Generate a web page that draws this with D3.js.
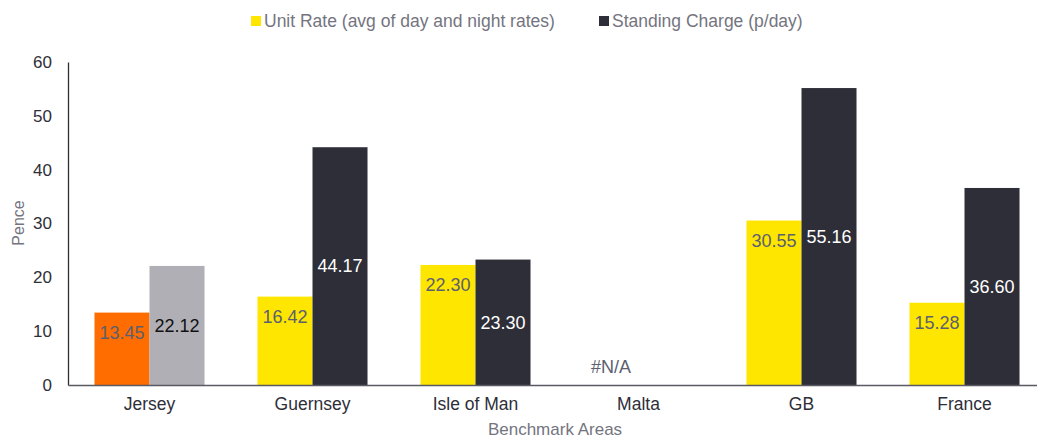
<!DOCTYPE html>
<html>
<head>
<meta charset="utf-8">
<script src="https://cdn.jsdelivr.net/npm/d3@7"></script>
<style>
  body { margin: 0; background: #fff; }
  svg { display: block; font-family: "Liberation Sans", Arial, sans-serif; }
</style>
</head>
<body>
<svg width="1037" height="439"></svg>
<script>
    var categories = ["Jersey", "Guernsey", "Isle of Man", "Malta", "GB", "France"];
    var unitRate = [13.45, 16.42, 22.30, null, 30.55, 15.28];
    var standingCharge = [22.12, 44.17, 23.30, null, 55.16, 36.60];
    var seriesNames = ["Unit Rate (avg of day and night rates)", "Standing Charge (p/day)"];
    var yTicks = [0, 10, 20, 30, 40, 50, 60];

    var yellow = "#FFE600", dark = "#2E2E38";
    var highlight = { Jersey: ["#FF6D00", "#B0AFB5"] };

    var svg = d3.select("svg"),
        width = +svg.attr("width"),
        height = +svg.attr("height");

    var x0 = d3.scaleBand()
        .domain(categories)
        .range([68, 1046])
        .paddingInner(0.325)
        .paddingOuter(0.1625);

    var x1 = d3.scaleBand()
        .domain([0, 1])
        .range([0, x0.bandwidth()]);

    var y = d3.scaleLinear()
        .domain([0, 60])
        .range([385, 62]);

    // axes
    var yAxis = svg.append("g")
        .attr("transform", "translate(68,0)")
        .call(d3.axisLeft(y).tickValues(yTicks).tickSize(0).tickPadding(16));
    yAxis.select(".domain").attr("stroke", "#2E2E38").attr("stroke-width", 1.3);
    yAxis.selectAll("text").attr("font-size", 17).attr("fill", "#2E2E38")
        .attr("font-family", "Liberation Sans, Arial, sans-serif");

    var rows = categories.map(function (c, i) {
        return { cat: c, values: [unitRate[i], standingCharge[i]] };
    });

    var groups = svg.append("g")
        .selectAll("g")
        .data(rows)
        .enter()
            .append("g")
            .attr("transform", function (d) { return "translate(" + x0(d.cat) + ",0)"; });

    groups.selectAll("rect")
        .data(function (d) {
            return d.values.map(function (v, k) { return { cat: d.cat, k: k, v: v }; });
        })
        .enter()
            .filter(function (d) { return d.v != null; })
            .append("rect")
            .attr("x", function (d) { return x1(d.k); })
            .attr("width", x1.bandwidth())
            .attr("y", function (d) { return y(d.v); })
            .attr("height", function (d) { return y(0) - y(d.v); })
            .attr("fill", function (d) {
                if (highlight[d.cat]) return highlight[d.cat][d.k];
                return d.k === 0 ? yellow : dark;
            });

    // data labels: unit rate at inside end, standing charge centred
    groups.selectAll("text")
        .data(function (d) {
            return d.values.map(function (v, k) { return { cat: d.cat, k: k, v: v }; });
        })
        .enter()
            .filter(function (d) { return d.k === 0 || d.v != null; })
            .append("text")
            .attr("x", function (d) { return x1(d.k) + x1.bandwidth() / 2; })
            .attr("y", function (d) {
                if (d.v == null) return y(0) - 18;
                if (d.k === 0) return y(d.v) + 20;
                return (y(d.v) + y(0)) / 2;
            })
            .attr("dy", "0.35em")
            .attr("text-anchor", "middle")
            .attr("font-size", 18)
            .attr("fill", function (d) {
                if (d.k === 0) return "#5B6070";
                if (highlight[d.cat]) return "#111";
                return "#fff";
            })
            .text(function (d) { return d.v == null ? "#N/A" : d.v.toFixed(2); });

    var xAxis = svg.append("g")
        .attr("transform", "translate(0," + y(0) + ")")
        .call(d3.axisBottom(x0).tickSize(0).tickPadding(13));
    xAxis.select(".domain").attr("stroke", "#5A5A64").attr("stroke-width", 1.3);
    xAxis.selectAll("text").attr("font-size", 17.5).attr("fill", "#2E2E38")
        .attr("font-family", "Liberation Sans, Arial, sans-serif");

    // axis titles
    svg.append("text")
        .attr("transform", "translate(24,223) rotate(-90)")
        .attr("text-anchor", "middle")
        .attr("font-size", 16)
        .attr("fill", "#747480")
        .text("Pence");

    svg.append("text")
        .attr("x", 555)
        .attr("y", 435)
        .attr("text-anchor", "middle")
        .attr("font-size", 17)
        .attr("fill", "#747480")
        .text("Benchmark Areas");

    // legend
    var legendX = [251, 599];
    var legend = svg.append("g")
        .selectAll("g")
        .data(seriesNames)
        .enter()
            .append("g")
            .attr("transform", function (d, i) { return "translate(" + legendX[i] + ",16)"; });
    legend.append("rect")
        .attr("width", 10)
        .attr("height", 10)
        .attr("fill", function (d, i) { return i === 0 ? yellow : dark; });
    legend.append("text")
        .attr("x", 13)
        .attr("y", 5)
        .attr("dy", "0.35em")
        .attr("font-size", 17.5)
        .attr("fill", "#747480")
        .text(function (d) { return d; });
</script>
</body>
</html>
